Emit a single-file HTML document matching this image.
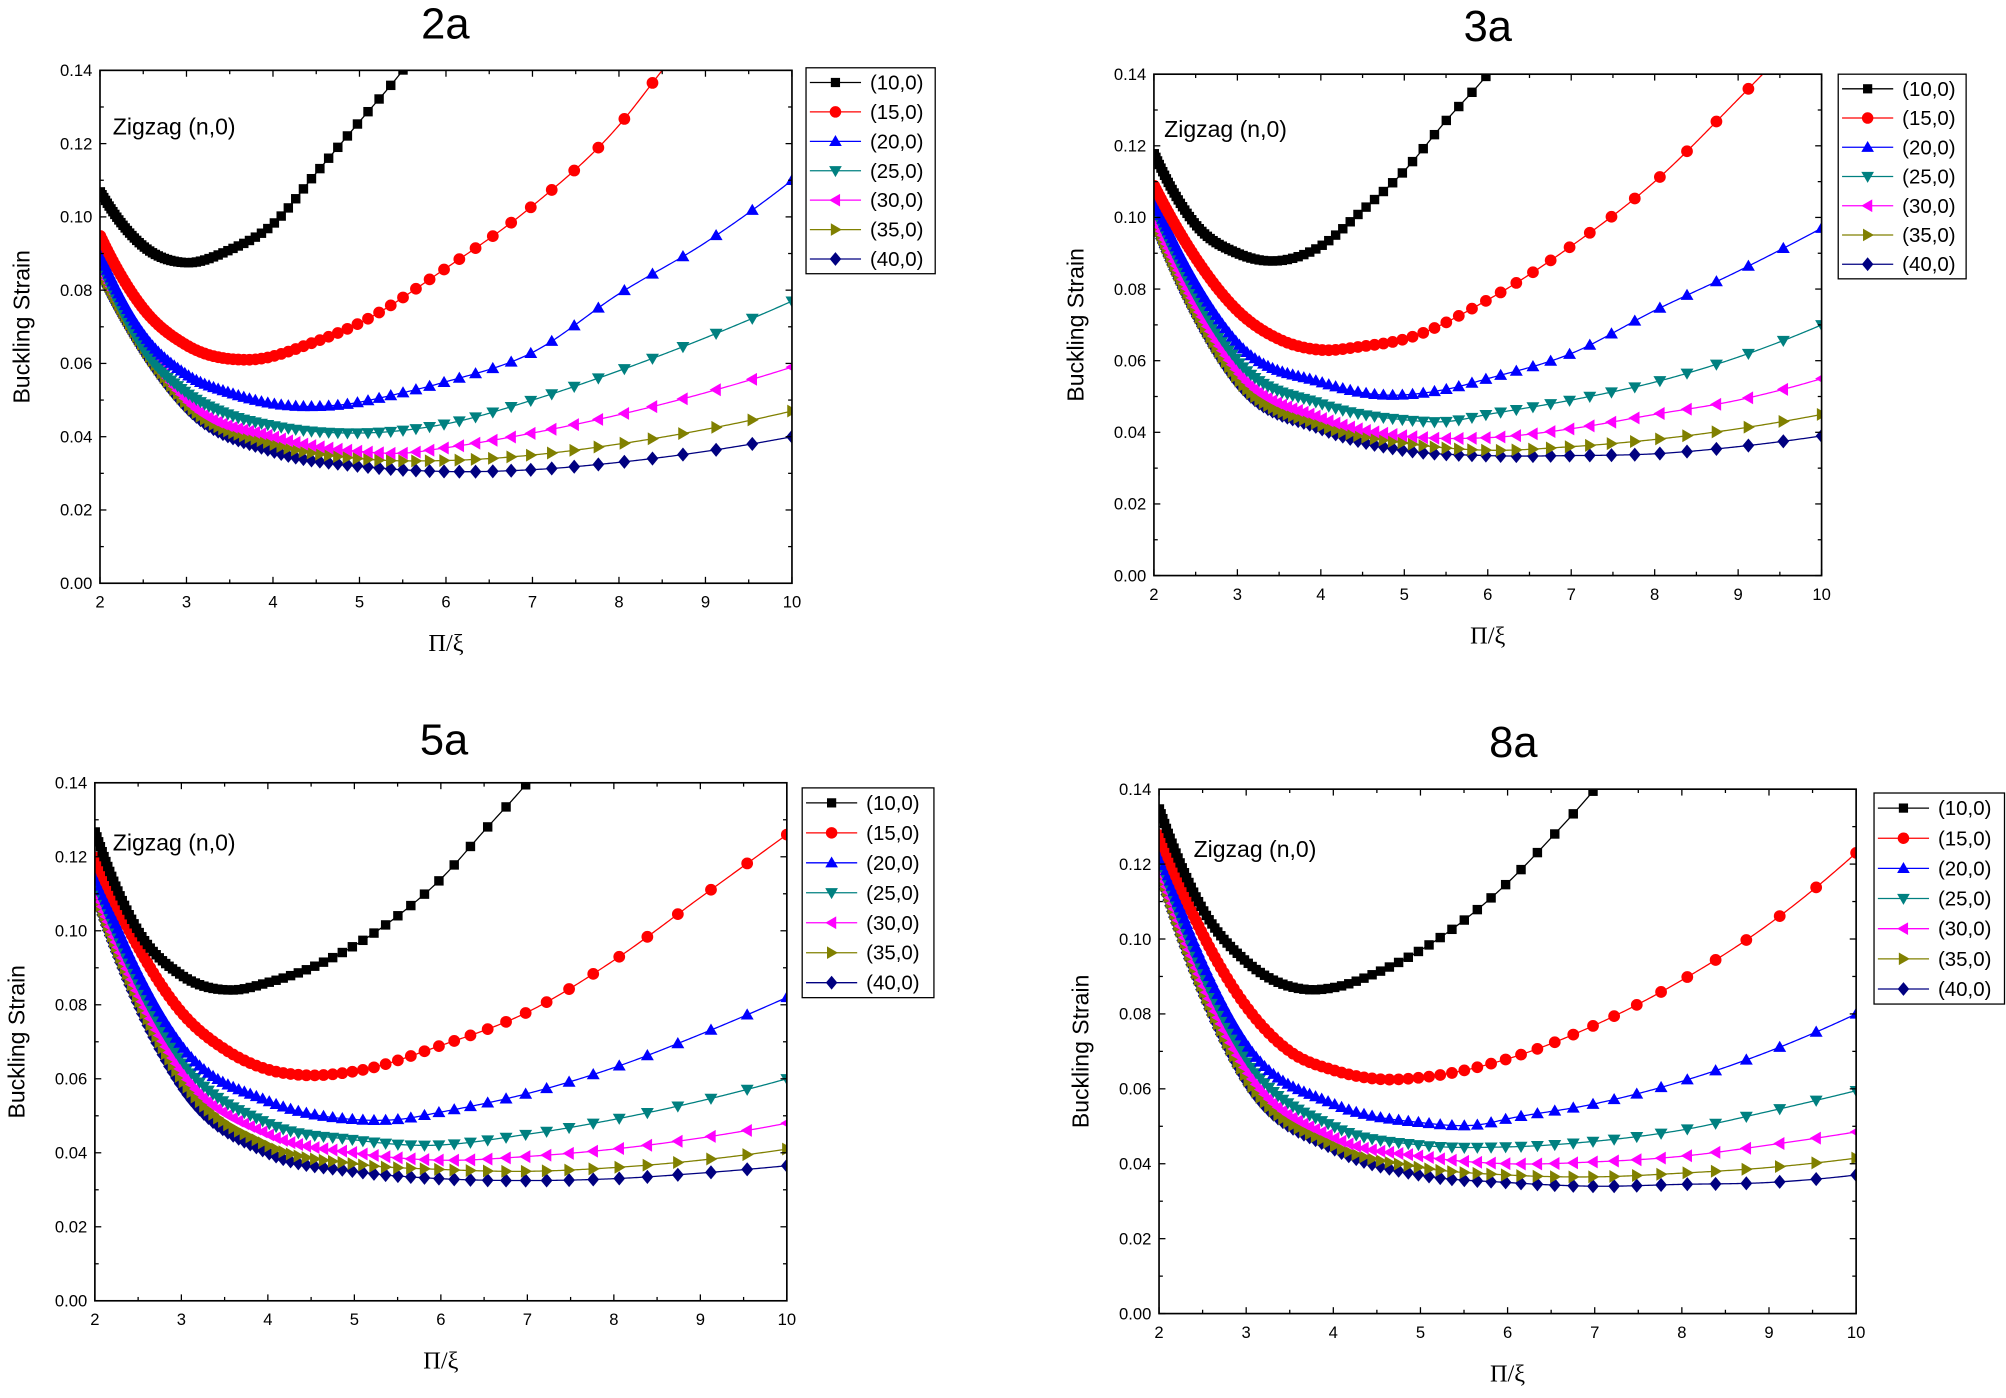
<!DOCTYPE html>
<html><head><meta charset="utf-8"><style>
html,body{margin:0;padding:0;background:#fff;}
svg{display:block;font-family:"Liberation Sans",sans-serif;}
</style></head><body>
<svg id="s" width="2006" height="1398" viewBox="0 0 1568 1093" xmlns="http://www.w3.org/2000/svg"></svg>
<script>
const cols=["#000000","#ff0000","#0000ff","#008080","#ff00ff","#808000","#000080"];
const labs=["(10,0)","(15,0)","(20,0)","(25,0)","(30,0)","(35,0)","(40,0)"];
const shapes=["sq","ci","tu","td","tl","tr","di"];
const panels=[
{t:"2a",tx:348,ty:30,x0:78,x1:619,y0:55,y1:456,lg:[630,53,101,161],zz:[88,105],
d:[[[2,.107],[2.5,.092],[3,.0875],[3.5,.091],[4,.098],[4.5,.112],[5,.126],[5.5,.14],[6,.157]],
[[2,.095],[2.5,.075],[3,.065],[3.7,.061],[4.5,.066],[5,.071],[6,.086],[7,.103],[8,.125],[8.5,.14],[9,.155]],
[[2,.09],[2.5,.068],[3,.057],[3.5,.052],[4,.049],[4.7,.0485],[5.5,.052],[6,.055],[7,.063],[8,.079],[9,.093],[10,.11]],
[[2,.088],[2.5,.064],[3,.052],[3.5,.046],[4,.043],[5,.041],[6,.0435],[7,.05],[8,.058],[9,.067],[10,.077]],
[[2,.087],[3,.05],[4,.04],[5,.036],[5.5,.0355],[6,.037],[7,.041],[8,.046],[9,.052],[10,.059]],
[[2,.086],[3,.049],[4,.038],[5,.034],[6,.0335],[7,.035],[8,.038],[9,.042],[10,.047]],
[[2,.085],[3,.048],[4,.036],[5,.032],[6,.0305],[7,.031],[8,.033],[9,.036],[10,.040]]]},
{t:"3a",tx:1163,ty:32,x0:902,x1:1424,y0:58,y1:450,lg:[1437,58,100,160],zz:[910,107],
d:[[[2,.118],[2.5,.098],[3,.09],[3.3,.088],[4,.092],[4.5,.102],[5,.113],[5.5,.127],[6,.14],[6.3,.149]],
[[2,.109],[3,.074],[3.5,.066],[4,.063],[4.5,.064],[5,.066],[6,.077],[7,.092],[8,.11],[9,.133],[9.5,.145]],
[[2,.105],[3,.065],[4,.054],[4.7,.0505],[5.5,.052],[6,.055],[7,.062],[8,.074],[9,.085],[10,.097]],
[[2,.103],[3,.06],[4,.048],[5,.0435],[5.5,.043],[6,.045],[7,.049],[8,.054],[9,.061],[10,.07]],
[[2,.101],[3,.057],[4,.044],[5,.039],[6,.0385],[7,.041],[8,.045],[9,.049],[10,.055]],
[[2,.1],[3,.055],[4,.042],[5,.037],[6,.035],[7,.036],[8,.038],[9,.041],[10,.045]],
[[2,.099],[3,.054],[4,.041],[5,.035],[6,.0335],[7,.0335],[8,.034],[9,.036],[10,.039]]]},
{t:"5a",tx:347,ty:590,x0:74,x1:615,y0:612,y1:1017,lg:[627,616,103,164],zz:[88,665],
d:[[[2,.127],[2.5,.1],[3,.088],[3.6,.084],[4,.086],[4.5,.09],[5,.096],[5.5,.104],[6,.114],[6.5,.127],[7,.14],[7.5,.155]],
[[2,.12],[3,.078],[3.5,.068],[4,.0625],[4.4,.061],[5,.062],[6,.069],[7,.078],[8,.092],[9,.109],[10,.126]],
[[2,.116],[3,.069],[4,.054],[5,.049],[5.5,.049],[6,.051],[7,.056],[8,.063],[9,.072],[10,.082]],
[[2,.114],[3,.065],[4,.048],[5,.0435],[5.8,.042],[7,.045],[8,.049],[9,.054],[10,.06]],
[[2,.112],[3,.062],[4,.045],[5,.04],[6,.038],[7,.039],[8,.041],[9,.044],[10,.048]],
[[2,.111],[3,.06],[4,.042],[5,.037],[6,.0355],[7,.035],[8,.036],[9,.038],[10,.041]],
[[2,.11],[3,.058],[4,.04],[5,.035],[6,.033],[7,.0325],[8,.033],[9,.0345],[10,.0365]]]},
{t:"8a",tx:1183,ty:592,x0:906,x1:1451,y0:617,y1:1027,lg:[1465,620,102,165],zz:[933,670],
d:[[[2,.135],[2.5,.108],[3,.094],[3.7,.0865],[4,.087],[4.5,.091],[5,.097],[5.5,.105],[6,.115],[6.5,.127],[7,.14],[7.5,.155]],
[[2,.128],[3,.082],[3.5,.07],[4,.065],[4.6,.0625],[5,.063],[6,.068],[7,.077],[8,.089],[9,.104],[10,.123]],
[[2,.124],[3,.072],[4,.056],[5,.051],[5.7,.0505],[6,.052],[7,.056],[8,.062],[9,.07],[10,.08]],
[[2,.122],[3,.068],[4,.05],[5,.045],[6,.0445],[7,.046],[8,.049],[9,.054],[10,.0595]],
[[2,.12],[3,.065],[4,.047],[5,.042],[6,.04],[7,.0405],[8,.042],[9,.045],[10,.0485]],
[[2,.119],[3,.063],[4,.045],[5,.039],[6,.037],[7,.0365],[8,.0375],[9,.039],[10,.0415]],
[[2,.118],[3,.062],[4,.044],[5,.037],[6,.035],[7,.034],[8,.0345],[9,.035],[10,.037]]]}
];
panels.forEach(P=>P.d.forEach(p=>{
 if(p[1][0]!==2.5 && p[1][0]===3){p.splice(1,0,[2.5,p[1][1]+0.42*(p[0][1]-p[1][1])]);}
}));
function interp(p,x){
 const n=p.length;
 if(x<=p[0][0])return p[0][1];
 if(x>=p[n-1][0]){const a=p[n-2],b=p[n-1];return b[1]+(x-b[0])*(b[1]-a[1])/(b[0]-a[0]);}
 const sec=i=>(p[i+1][1]-p[i][1])/(p[i+1][0]-p[i][0]);
 const m=p.map((q,i)=>{
  if(i==0)return 1.5*sec(0)-0.5*sec(1);
  if(i==n-1)return 1.5*sec(n-2)-0.5*sec(n-3);
  const s1=sec(i-1),s2=sec(i),h1=q[0]-p[i-1][0],h2=p[i+1][0]-q[0];
  return (s1*h2+s2*h1)/(h1+h2);});
 let i=0;while(p[i+1][0]<x)i++;
 const h=p[i+1][0]-p[i][0],t=(x-p[i][0])/h,t2=t*t,t3=t2*t;
 return (2*t3-3*t2+1)*p[i][1]+(t3-2*t2+t)*h*m[i]+(-2*t3+3*t2)*p[i+1][1]+(t3-t2)*h*m[i+1];
}
function mk(sh,x,y,c,r){
 r=r||4.6;
 switch(sh){
 case"sq":return `<rect x="${x-r*0.8}" y="${y-r*0.8}" width="${r*1.6}" height="${r*1.6}" fill="${c}"/>`;
 case"ci":return `<circle cx="${x}" cy="${y}" r="${r}" fill="${c}"/>`;
 case"tu":return `<polygon points="${x},${y-r*1.1} ${x-r*1.1},${y+r*0.8} ${x+r*1.1},${y+r*0.8}" fill="${c}"/>`;
 case"td":return `<polygon points="${x},${y+r*1.1} ${x-r*1.1},${y-r*0.8} ${x+r*1.1},${y-r*0.8}" fill="${c}"/>`;
 case"tl":return `<polygon points="${x-r*1.1},${y} ${x+r*0.8},${y-r*1.1} ${x+r*0.8},${y+r*1.1}" fill="${c}"/>`;
 case"tr":return `<polygon points="${x+r*1.1},${y} ${x-r*0.8},${y-r*1.1} ${x-r*0.8},${y+r*1.1}" fill="${c}"/>`;
 case"di":return `<polygon points="${x},${y-r*1.2} ${x+r*1.0},${y} ${x},${y+r*1.2} ${x-r*1.0},${y}" fill="${c}"/>`;
 }
}
let out="";
panels.forEach((P,pi)=>{
 const X=x=>P.x0+(x-2)/8*(P.x1-P.x0), Y=y=>P.y1-y/0.14*(P.y1-P.y0);
 out+=`<clipPath id="c${pi}"><rect x="${P.x0}" y="${P.y0}" width="${P.x1-P.x0}" height="${P.y1-P.y0}"/></clipPath>`;
 out+=`<text x="${P.tx}" y="${P.ty}" font-size="34" text-anchor="middle">${P.t}</text>`;
 out+=`<g clip-path="url(#c${pi})">`;
 for(let k=6;k>=0;k--){
  const p=P.d[k];let pts=[];
  for(let x=2;x<=10.001;x+=0.02)pts.push(X(x).toFixed(2)+","+Y(interp(p,x)).toFixed(2));
  out+=`<polyline points="${pts.join(" ")}" fill="none" stroke="${cols[k]}" stroke-width="1"/>`;
  for(let xi=Math.PI/10;xi<=Math.PI/2+1e-6;xi+=0.0151){
   const x=Math.PI/xi;out+=mk(shapes[k],X(x),Y(interp(p,x)),cols[k]);
  }
 }
 out+=`</g>`;
 out+=`<rect x="${P.x0}" y="${P.y0}" width="${P.x1-P.x0}" height="${P.y1-P.y0}" fill="none" stroke="#000" stroke-width="1.3"/>`;
 for(let i=0;i<=7;i++){
  const y=Y(i*0.02);
  out+=`<line x1="${P.x0}" x2="${P.x0+5}" y1="${y}" y2="${y}" stroke="#000"/>`;
  out+=`<line x1="${P.x1}" x2="${P.x1-5}" y1="${y}" y2="${y}" stroke="#000"/>`;
  out+=`<text x="${P.x0-6}" y="${y+4.5}" font-size="13" text-anchor="end">${(i*0.02).toFixed(2)}</text>`;
  if(i<7){const ym=Y(i*0.02+0.01);out+=`<line x1="${P.x0}" x2="${P.x0+3}" y1="${ym}" y2="${ym}" stroke="#000"/><line x1="${P.x1}" x2="${P.x1-3}" y1="${ym}" y2="${ym}" stroke="#000"/>`;}
 }
 for(let i=2;i<=10;i++){
  const x=X(i);
  out+=`<line x1="${x}" x2="${x}" y1="${P.y1}" y2="${P.y1-5}" stroke="#000"/>`;
  out+=`<line x1="${x}" x2="${x}" y1="${P.y0}" y2="${P.y0+5}" stroke="#000"/>`;
  out+=`<text x="${x}" y="${P.y1+19}" font-size="13" text-anchor="middle">${i}</text>`;
  if(i<10){const xm=X(i+0.5);out+=`<line x1="${xm}" x2="${xm}" y1="${P.y1}" y2="${P.y1-3}" stroke="#000"/><line x1="${xm}" x2="${xm}" y1="${P.y0}" y2="${P.y0+3}" stroke="#000"/>`;}
 }
 const cx=(P.x0+P.x1)/2,cy=(P.y0+P.y1)/2;
 out+=`<text x="${cx}" y="${P.y1+53}" font-size="19" font-family="Liberation Serif,serif" text-anchor="middle">Π/ξ</text>`;
 out+=`<text transform="translate(${P.x0-55},${cy}) rotate(-90)" font-size="18" text-anchor="middle">Buckling Strain</text>`;
 out+=`<text x="${P.zz[0]}" y="${P.zz[1]}" font-size="18">Zigzag (n,0)</text>`;
 const [lx,ly,lw,lh]=P.lg;
 out+=`<rect x="${lx}" y="${ly}" width="${lw}" height="${lh}" fill="#fff" stroke="#000" stroke-width="1"/>`;
 const step=lh/7;
 for(let k=0;k<7;k++){
  const yy=ly+step*(k+0.5);
  out+=`<line x1="${lx+3}" x2="${lx+43}" y1="${yy}" y2="${yy}" stroke="${cols[k]}"/>`;
  out+=mk(shapes[k],lx+23,yy,cols[k],4.5);
  out+=`<text x="${lx+50}" y="${yy+5.5}" font-size="16">${labs[k]}</text>`;
 }
});
document.getElementById("s").innerHTML=out;
</script>
</body></html>
